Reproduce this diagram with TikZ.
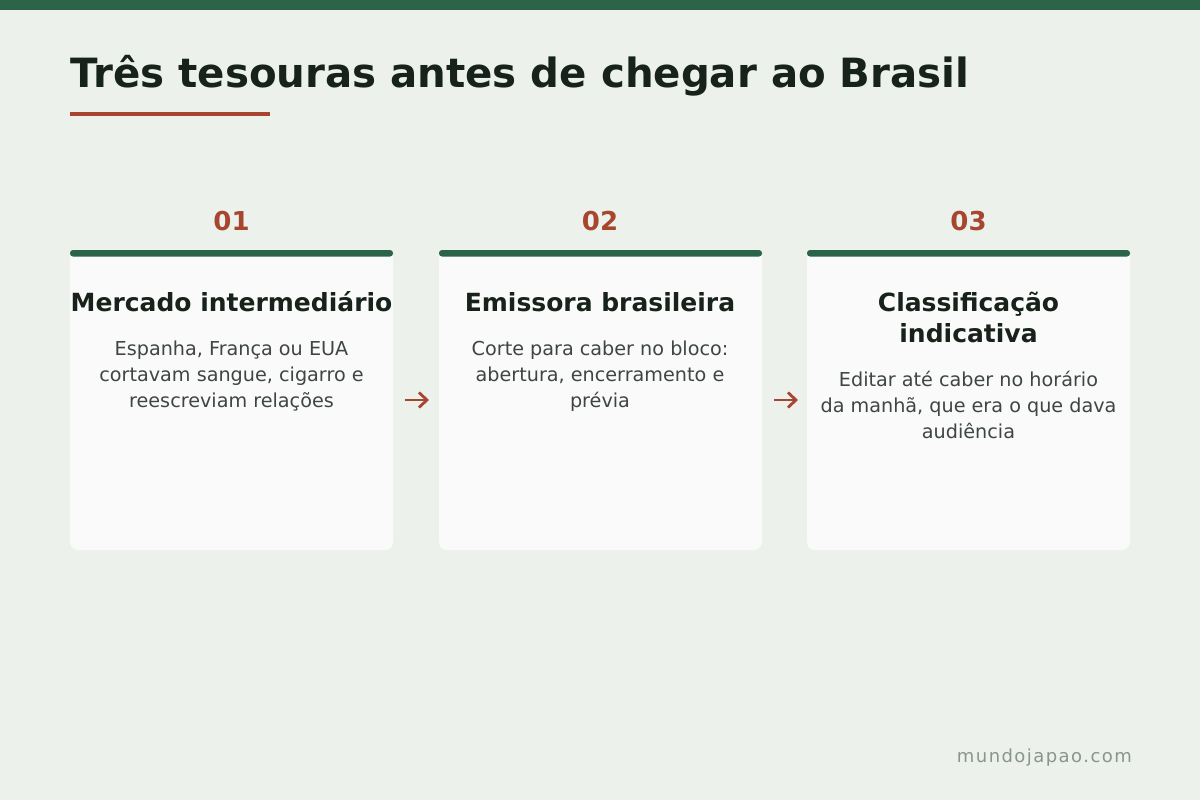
\documentclass[tikz,border=0pt]{standalone}
\usepackage{fontspec}
\setmainfont{DejaVu Sans}
\newfontfamily\spacedfont[LetterSpace=8]{DejaVu Sans}
\usetikzlibrary{arrows.meta}
\definecolor{bg}{HTML}{ECF1EB}
\definecolor{dkgreen}{HTML}{2C6449}
\definecolor{rust}{HTML}{A8452F}
\definecolor{cardbg}{HTML}{FAFAFA}
\definecolor{ink}{HTML}{16221A}
\definecolor{body}{HTML}{3E4641}
\definecolor{foot}{HTML}{8A9590}
\tikzset{
  card/.style={fill=cardbg, rounded corners=8pt},
  topbar/.style={fill=dkgreen, rounded corners=3pt},
  num/.style={text=rust, font=\bfseries\fontsize{26}{30}\selectfont, anchor=base},
  ctitle/.style={text=ink, font=\bfseries\fontsize{25}{31}\selectfont, align=center, anchor=base},
  cdesc/.style={text=body, font=\fontsize{19.2}{26}\selectfont, align=center, anchor=base},
  flow/.style={draw=rust, line width=2.8pt, -{Straight Barb[length=8pt,width=15pt,line width=2.8pt]}},
}
\begin{document}
\begin{tikzpicture}[x=1pt,y=-1pt]
\useasboundingbox (0,0) rectangle (1200,800);
\fill[bg] (0,0) rectangle (1200,800);
\fill[dkgreen] (0,0) rectangle (1200,10);
\node[anchor=base west, inner sep=0, text=ink, font=\bfseries\fontsize{40.3}{48}\selectfont] (title) at (70,88) {Três tesouras antes de chegar ao Brasil};
\fill[rust] (70,112) rectangle (270,116);
% cards
\foreach \x/\n in {70/c1,439/c2,807/c3}{
  \fill[card] (\x,250) rectangle ++(323,300);
  \fill[topbar] (\x,250) rectangle ++(323,6.5);
}
\node[num] (n1) at (231.5,230) {01};
\node[num] (n2) at (600,230) {02};
\node[num] (n3) at (968.5,230) {03};
\node[ctitle] (t1) at (231.5,311) {Mercado intermediário};
\node[ctitle] (t2) at (600,311) {Emissora brasileira};
\node[ctitle] (t3) at (968.5,342) {Classificação\\indicativa};
\node[cdesc] (d1) at (231.5,407) {Espanha, França ou EUA\\cortavam sangue, cigarro e\\reescreviam relações};
\node[cdesc] (d2) at (600,407) {Corte para caber no bloco:\\abertura, encerramento e\\prévia};
\node[cdesc] (d3) at (968.5,438) {Editar até caber no horário\\da manhã, que era o que dava\\audiência};
\coordinate (a1s) at (405,400); \coordinate (a1e) at (429,400);
\coordinate (a2s) at (774,400); \coordinate (a2e) at (798,400);
\draw[flow] (a1s) -- (a1e);
\draw[flow] (a2s) -- (a2e);
\node[anchor=base east, inner sep=0, text=foot, font=\spacedfont\fontsize{18}{22}\selectfont] (footer) at (1132,762) {mundojapao.com};
\end{tikzpicture}
\end{document}
